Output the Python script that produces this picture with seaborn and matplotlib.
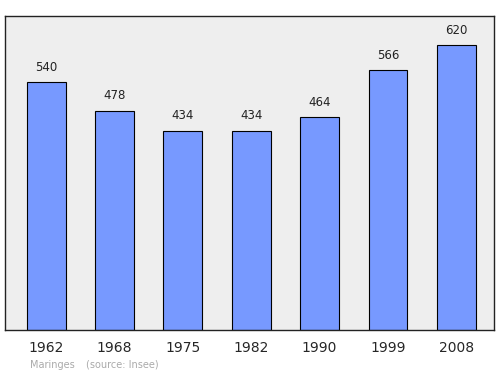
import matplotlib
matplotlib.use("Agg")
import matplotlib.pyplot as plt
import seaborn as sns
import pandas as pd

years = ["1962", "1968", "1975", "1982", "1990", "1999", "2008"]
population = [540, 478, 434, 434, 464, 566, 620]

df = pd.DataFrame({"year": years, "pop": population})

sns.set_style("white")
plt.rcParams['font.family'] = ['DejaVu Sans']

fig = plt.figure(figsize=(5, 3.74), dpi=100)
ax = fig.add_axes([0.01, 0.1176, 0.978, 0.8396])
ax.set_facecolor("#eeeeee")

sns.barplot(data=df, x="year", y="pop", color="#7799ff", saturation=1,
            edgecolor="black", linewidth=0.8, width=0.57, ax=ax)

for i, v in enumerate(population):
    ax.annotate(str(v), (i, v), xytext=(0, 6), textcoords="offset points",
                ha="center", va="bottom", fontsize=8.5, color="#222222")

ax.set_xlim(-0.6, 6.55)
ax.set_ylim(0, 684)
ax.set_yticks([])
ax.set_xlabel("")
ax.set_ylabel("")
ax.tick_params(axis="x", length=0, labelsize=10, pad=8)
for s in ax.spines.values():
    s.set_visible(True)
    s.set_color("#222222")
    s.set_linewidth(1)

fig.text(0.06, 0.012, "Maringes", fontsize=7, color="#aaaaaa", ha="left", va="bottom")
fig.text(0.172, 0.012, "(source: Insee)", fontsize=7, color="#aaaaaa", ha="left", va="bottom")

fig.savefig("out.png", dpi=100)
